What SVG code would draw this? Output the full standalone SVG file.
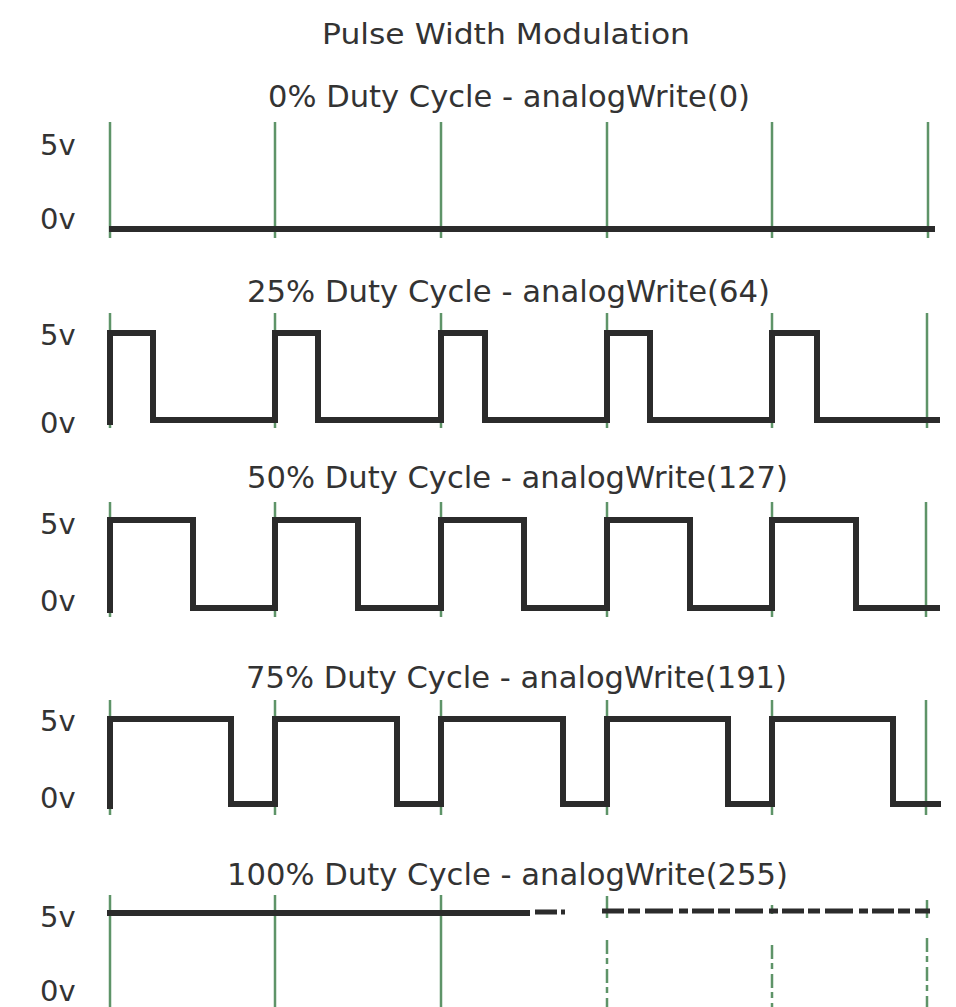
<svg xmlns="http://www.w3.org/2000/svg" width="956" height="1007" viewBox="0 0 956 1007">
<style>
text{font-family:"DejaVu Sans","Liberation Sans",sans-serif;fill:#333;}
.t{font-size:29px;}
.s{font-size:30px;}
.ax{font-size:29px;}
.g{stroke:#5e9468;stroke-width:2.5;fill:none;}
.gd{stroke:#5e9468;stroke-width:2.5;fill:none;stroke-dasharray:14 4 6 5;}
.w{stroke:#2b2b2b;stroke-width:6;fill:none;stroke-linejoin:miter;stroke-linecap:square;}
.wd{stroke:#2b2b2b;stroke-width:5;fill:none;stroke-dasharray:22 4 12 5 28 6 9 4;}
</style>
<rect width="956" height="1007" fill="#fff"/>
<text id="title" class="t" x="322" y="44" textLength="368" lengthAdjust="spacingAndGlyphs">Pulse Width Modulation</text>

<g id="panel-0">
<text class="s" x="268" y="107" textLength="482" lengthAdjust="spacingAndGlyphs">0% Duty Cycle - analogWrite(0)</text>
<text class="ax" x="40" y="155">5v</text>
<text class="ax" x="40" y="229">0v</text>
<path class="g" d="M110,122V238M275,122V238M441,122V238M607,122V238M772,122V238M928,122V238"/>
<path class="w" d="M112,229H932"/>
</g>

<g id="panel-25">
<text class="s" x="247" y="302" textLength="523" lengthAdjust="spacingAndGlyphs">25% Duty Cycle - analogWrite(64)</text>
<text class="ax" x="40" y="345">5v</text>
<text class="ax" x="40" y="433">0v</text>
<path class="g" d="M110,313V428M275,313V428M441,313V428M607,313V428M772,313V428M927,313V428"/>
<path class="w" d="M110,422V333H153V420H275V333H318V420H441V333H485V420H607V333H650V420H772V333H817V420H937"/>
</g>

<g id="panel-50">
<text class="s" x="247" y="488" textLength="541" lengthAdjust="spacingAndGlyphs">50% Duty Cycle - analogWrite(127)</text>
<text class="ax" x="40" y="534">5v</text>
<text class="ax" x="40" y="611">0v</text>
<path class="g" d="M110,502V617M275,502V617M441,502V617M607,502V617M772,502V617M926,502V617"/>
<path class="w" d="M110,610V520H193V608H275V520H358V608H441V520H524V608H607V520H690V608H772V520H856V608H937"/>
</g>

<g id="panel-75">
<text class="s" x="246" y="688" textLength="541" lengthAdjust="spacingAndGlyphs">75% Duty Cycle - analogWrite(191)</text>
<text class="ax" x="40" y="731">5v</text>
<text class="ax" x="40" y="808">0v</text>
<path class="g" d="M110,700V815M275,700V815M441,700V815M607,700V815M772,700V815M926,700V815"/>
<path class="w" d="M110,806V719H231V804H275V719H397V804H441V719H563V804H607V719H728V804H772V719H893V804H938"/>
</g>

<g id="panel-100">
<text class="s" x="227" y="885" textLength="561" lengthAdjust="spacingAndGlyphs">100% Duty Cycle - analogWrite(255)</text>
<text class="ax" x="40" y="927">5v</text>
<text class="ax" x="40" y="1001">0v</text>
<path class="g" d="M110,895V1007M275,895V1007M441,895V1007"/>
<path class="g" d="M607,896V918M772,905V914M927,900V918"/>
<path class="gd" d="M607,940V1007M772,945V1007M927,938V1007"/>
<path class="w" d="M110,913H527"/>
<path class="wd" d="M535,912H565"/>
<path class="wd" d="M602,911H930"/>
</g>
</svg>
